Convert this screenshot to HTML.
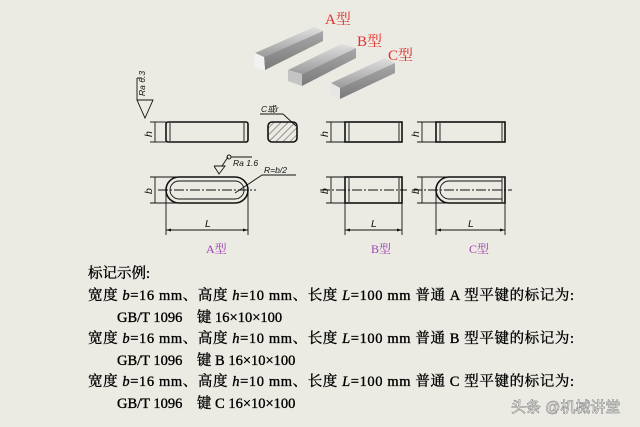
<!DOCTYPE html>
<html><head><meta charset="utf-8"><style>
html,body{margin:0;padding:0;background:#ebeae3;}
svg{display:block}
.t{font-family:"Liberation Serif","Noto Serif CJK SC",serif;font-size:14.5px;fill:#000;stroke:#000;stroke-width:0.35;}
.d{font-family:"Liberation Sans",sans-serif;font-style:italic;font-size:10.5px;fill:#111;}
.s{font-size:8.5px;}
</style></head><body>
<svg width="640" height="427" viewBox="0 0 640 427" xmlns="http://www.w3.org/2000/svg">
<defs>
<linearGradient id="g1" x1="0" y1="0" x2="0" y2="1"><stop offset="0" stop-color="#e0e0e0"/><stop offset="1" stop-color="#9a9a9a"/></linearGradient>
<linearGradient id="g2" x1="0" y1="0" x2="0" y2="1"><stop offset="0" stop-color="#a8a8a8"/><stop offset="1" stop-color="#7a7a7a"/></linearGradient>
<pattern id="h" width="5" height="5" patternUnits="userSpaceOnUse" patternTransform="rotate(45)"><line x1="0" y1="0" x2="0" y2="5" stroke="#222" stroke-width="0.8"/></pattern>
</defs>
<rect width="640" height="427" fill="#ebeae3"/>
<g stroke="none">
<polygon points="255,53 314,27 323,31 264,57" fill="url(#g1)"/>
<polygon points="264,57 323,31 323,41 265,70" fill="url(#g2)"/>
<path d="M255,53 L264,57 L265,70 L256,68 Q252,62 255,53Z" fill="#f2f2f2"/>
<polygon points="288,70 341,44 356,48 302,74" fill="url(#g1)"/>
<polygon points="302,74 356,48 356,58 302,86" fill="url(#g2)"/>
<polygon points="288,70 302,74 302,86 288,81" fill="#c4c4c4"/>
<polygon points="331,83 385,58 395,63 340,88" fill="url(#g1)"/>
<polygon points="340,88 395,63 395,73 340,99" fill="url(#g2)"/>
<path d="M331,83 L340,88 L340,99 L332,96 Q328,90 331,83Z" fill="#e6e6e6"/>
</g>
<g font-family="Liberation Serif,Noto Serif CJK SC,serif" font-size="15" fill="#e0302a">
<text x="325" y="24">A型</text><text x="357" y="46">B型</text><text x="388" y="60">C型</text>
</g>
<g fill="none" stroke="#111" stroke-width="1.6">
<rect x="166" y="122" width="82" height="20" rx="2"/>
<rect x="345" y="122" width="57" height="20"/>
<rect x="436" y="122" width="69" height="20"/>
</g>
<g fill="none" stroke="#111" stroke-width="0.9">
<line x1="170" y1="123" x2="170" y2="141"/><line x1="244" y1="123" x2="244" y2="141"/>
<line x1="349" y1="123" x2="349" y2="141"/><line x1="399" y1="123" x2="399" y2="141"/>
<line x1="440" y1="123" x2="440" y2="141"/><line x1="502" y1="123" x2="502" y2="141"/>
<line x1="150" y1="122" x2="166" y2="122"/><line x1="150" y1="142" x2="166" y2="142"/><line x1="155" y1="122" x2="155" y2="142"/>
<line x1="326" y1="122" x2="345" y2="122"/><line x1="326" y1="142" x2="345" y2="142"/><line x1="331" y1="122" x2="331" y2="142"/>
<line x1="417" y1="122" x2="436" y2="122"/><line x1="417" y1="142" x2="436" y2="142"/><line x1="422" y1="122" x2="422" y2="142"/>
<polyline points="137,78 137,100 145,118 153,100 137,100"/>
<line x1="137" y1="78" x2="142" y2="78"/>
<line x1="260" y1="114" x2="283" y2="114"/><line x1="283" y1="114" x2="296" y2="126"/>
<line x1="150" y1="177" x2="176" y2="177"/><line x1="150" y1="203" x2="176" y2="203"/><line x1="155" y1="177" x2="155" y2="203"/>
<line x1="326" y1="177" x2="345" y2="177"/><line x1="326" y1="203" x2="345" y2="203"/><line x1="331" y1="177" x2="331" y2="203"/>
<line x1="417" y1="177" x2="446" y2="177"/><line x1="417" y1="203" x2="446" y2="203"/><line x1="422" y1="177" x2="422" y2="203"/>
<line x1="166" y1="190" x2="166" y2="235"/><line x1="248" y1="190" x2="248" y2="235"/><line x1="166" y1="230" x2="248" y2="230"/>
<line x1="345" y1="203" x2="345" y2="235"/><line x1="402" y1="203" x2="402" y2="235"/><line x1="345" y1="230" x2="402" y2="230"/>
<line x1="436" y1="190" x2="436" y2="235"/><line x1="505" y1="203" x2="505" y2="235"/><line x1="436" y1="230" x2="505" y2="230"/>
<polyline points="214,166 225,166 219,174 214,166"/><line x1="222" y1="166" x2="228" y2="157"/>
<circle cx="229" cy="157" r="2"/><line x1="231" y1="157" x2="252" y2="157"/>
<line x1="262" y1="175" x2="296" y2="175"/><line x1="262" y1="175" x2="235" y2="193"/>
<line x1="158" y1="190" x2="256" y2="190" stroke-dasharray="10,2,2,2"/>
<line x1="320" y1="190" x2="407" y2="190" stroke-dasharray="10,2,2,2"/>
<line x1="412" y1="190" x2="512" y2="190" stroke-dasharray="10,2,2,2"/>
</g>
<rect x="268" y="122" width="29" height="20" rx="4" fill="url(#h)" stroke="#111" stroke-width="1.6"/>
<g fill="none" stroke="#111" stroke-width="1.6">
<rect x="166" y="177" width="82" height="26" rx="13"/>
<rect x="345" y="177" width="57" height="26"/>
<path d="M505,177 L449,177 A13,13 0 0 0 449,203 L505,203 Z"/>
</g>
<g fill="none" stroke="#111" stroke-width="0.9">
<rect x="170" y="181" width="74" height="18" rx="9"/>
<line x1="349" y1="178" x2="349" y2="202"/><line x1="399" y1="178" x2="399" y2="202"/>
<path d="M502,181 L449,181 A9,9 0 0 0 449,199 L502,199"/><line x1="502" y1="178" x2="502" y2="202"/>
</g>
<g fill="#111">
<polygon points="166,230 171,228.5 171,231.5"/><polygon points="248,230 243,228.5 243,231.5"/>
<polygon points="345,230 350,228.5 350,231.5"/><polygon points="402,230 397,228.5 397,231.5"/>
<polygon points="436,230 441,228.5 441,231.5"/><polygon points="505,230 500,228.5 500,231.5"/>
</g>
<text class="d" transform="translate(152,137) rotate(-90)">h</text>
<text class="d" transform="translate(328,137) rotate(-90)">h</text>
<text class="d" transform="translate(419,137) rotate(-90)">h</text>
<text class="d" transform="translate(152,194) rotate(-90)">b</text>
<text class="d" transform="translate(328,194) rotate(-90)">b</text>
<text class="d" transform="translate(419,194) rotate(-90)">b</text>
<text class="d s" transform="translate(145,96) rotate(-90)">Ra 6.3</text>
<text class="d s" x="261" y="112">C或r</text>
<text class="d s" x="233" y="166">Ra 1.6</text>
<text class="d s" x="264" y="173">R=b/2</text>
<text class="d" x="205" y="227">L</text><text class="d" x="371" y="227">L</text><text class="d" x="468" y="227">L</text>
<g font-family="Liberation Serif,Noto Serif CJK SC,serif" font-size="12" fill="#a040b0">
<text x="206" y="253">A型</text><text x="371" y="253">B型</text><text x="469" y="253">C型</text>
</g>
<text class="t" x="88" y="278">标记示例:</text>
<text class="t" x="88" y="300" textLength="486">宽度 <tspan font-style="italic">b</tspan>=16 mm、高度 <tspan font-style="italic">h</tspan>=10 mm、长度 <tspan font-style="italic">L</tspan>=100 mm 普通 A 型平键的标记为:</text>
<text class="t" x="117" y="322">GB/T 1096　键 16×10×100</text>
<text class="t" x="88" y="343" textLength="486">宽度 <tspan font-style="italic">b</tspan>=16 mm、高度 <tspan font-style="italic">h</tspan>=10 mm、长度 <tspan font-style="italic">L</tspan>=100 mm 普通 B 型平键的标记为:</text>
<text class="t" x="117" y="365">GB/T 1096　键 B 16×10×100</text>
<text class="t" x="88" y="386" textLength="486">宽度 <tspan font-style="italic">b</tspan>=16 mm、高度 <tspan font-style="italic">h</tspan>=10 mm、长度 <tspan font-style="italic">L</tspan>=100 mm 普通 C 型平键的标记为:</text>
<text class="t" x="117" y="408">GB/T 1096　键 C 16×10×100</text>
<text x="511" y="412" font-family="Liberation Sans,Noto Sans CJK SC,sans-serif" font-size="15" fill="#fff" stroke="#777" stroke-width="0.5">头条 @机械讲堂</text>
</svg>
</body></html>
